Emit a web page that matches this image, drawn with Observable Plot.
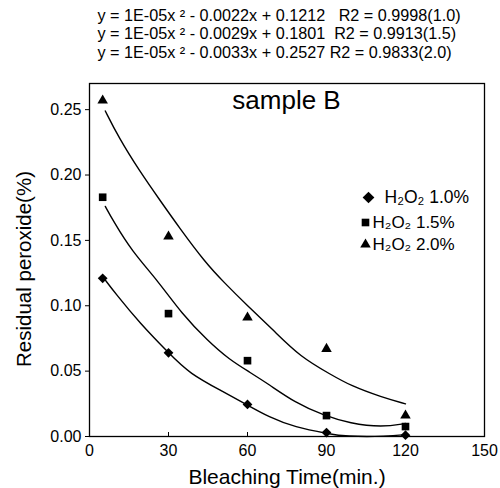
<!DOCTYPE html>
<html>
<head>
<meta charset="utf-8">
<script src="https://cdn.jsdelivr.net/npm/d3@7"></script>
<script src="https://cdn.jsdelivr.net/npm/@observablehq/plot@0.6"></script>
<style>
  html, body { margin: 0; padding: 0; background: #fff; }
  #chart svg { display: block; }
</style>
</head>
<body>
<div id="chart"></div>
<script>
// ---- data ----
const times = [5, 30, 60, 90, 120];
const peroxide10 = [0.121, 0.064, 0.0245, 0.003, 0.001];
const peroxide15 = [0.183, 0.094, 0.058, 0.016, 0.0076];
const peroxide20 = [0.257, 0.153, 0.091, 0.067, 0.016];

// fitted trend curves
const fit10X = [5.5, 10, 19, 30, 38, 51, 60, 68, 78, 91, 97, 113, 120];
const fit10Y = [0.121, 0.109, 0.087, 0.064, 0.048, 0.034, 0.024, 0.015, 0.007, 0.002, 0.0, 0.0, 0.0015];
const fit15X = [6, 9, 16, 26, 35, 45, 53, 61, 68, 78, 89, 99, 111, 120];
const fit15Y = [0.176, 0.165, 0.142, 0.119, 0.094, 0.073, 0.059, 0.049, 0.040, 0.026, 0.016, 0.010, 0.007, 0.010];
const fit20X = [6, 11, 19, 27, 34, 44, 51, 60, 70, 80, 92, 99, 111, 120];
const fit20Y = [0.249, 0.229, 0.203, 0.180, 0.160, 0.133, 0.118, 0.100, 0.081, 0.061, 0.047, 0.039, 0.030, 0.025];

const xTicks = [0, 30, 60, 90, 120, 150];
const yTicks = [0, 0.05, 0.10, 0.15, 0.20, 0.25];
const equations = [
  "y = 1E-05x \u00B2 - 0.0022x + 0.1212   R2 = 0.9998(1.0)",
  "y = 1E-05x \u00B2 - 0.0029x + 0.1801  R2 = 0.9913(1.5)",
  "y = 1E-05x \u00B2 - 0.0033x + 0.2527 R2 = 0.9833(2.0)"
];
const legendLabels = ["H\u2082O\u2082 1.0%", "H\u2082O\u2082 1.5%", "H\u2082O\u2082 2.0%"];
const legendSymbols = ["diamond2", "square", "triangle"];
const panelLabel = "sample B";
const xLabel = "Bleaching Time(min.)";
const yLabel = "Residual peroxide(%)";

// ---- build ----
const toRows = (xs, ys) => xs.map((x, i) => ({x, y: ys[i]}));
const pts10 = toRows(times, peroxide10);
const pts15 = toRows(times, peroxide15);
const pts20 = toRows(times, peroxide20);
const fit10 = toRows(fit10X, fit10Y);
const fit15 = toRows(fit15X, fit15Y);
const fit20 = toRows(fit20X, fit20Y);

const FONT = "'Liberation Sans', Arial, Helvetica, sans-serif";
const symR = {diamond2: 4.4, square: 4.3, triangle: 3.9};

const legendMarks = [];
const legDy = [114, 139, 161];
const legSymDx = [279, 276, 276];
const legTextDx = [295, 283, 283];
legendLabels.forEach((lab, i) => {
  legendMarks.push(Plot.dot([lab], {frameAnchor: "top-left", dx: legSymDx[i], dy: legDy[i],
    symbol: legendSymbols[i], r: symR[legendSymbols[i]] * (i === 0 ? 1.2 : 1), fill: "black", stroke: "none"}));
  legendMarks.push(Plot.text([lab], {frameAnchor: "top-left", dx: legTextDx[i], dy: legDy[i],
    text: d => d, textAnchor: "start", lineAnchor: "middle", fontSize: i === 0 ? 17.5 : 17, fill: "black"}));
});

const eqDy = [-68, -50, -31];
const eqMarks = equations.map((e, i) => Plot.text([e], {frameAnchor: "top-left", dx: 8, dy: eqDy[i],
  text: d => d, textAnchor: "start", lineAnchor: "middle", fontSize: 16.2, fill: "black"}));

const plot = Plot.plot({
  width: 500,
  height: 488,
  marginLeft: 89,
  marginRight: 16,
  marginTop: 83,
  marginBottom: 52,
  style: {fontFamily: FONT, background: "white", color: "black"},
  x: {domain: [0, 150]},
  y: {domain: [0, 0.27]},
  marks: [
    Plot.frame({stroke: "black", strokeWidth: 1.3}),
    Plot.axisY({ticks: yTicks, tickFormat: d3.format(".2f"), tickSize: 4, tickPadding: 4, fontSize: 16, label: null}),
    Plot.axisX({ticks: xTicks, tickFormat: d => d, tickSize: -4, tickPadding: 12, fontSize: 16, label: null}),
    Plot.text([xLabel], {frameAnchor: "bottom", dy: 47, text: d => d, textAnchor: "middle", fontSize: 21, fill: "black"}),
    Plot.text([yLabel], {frameAnchor: "left", dx: -65, dy: 9, rotate: -90, textAnchor: "middle", lineAnchor: "middle", text: d => d, fontSize: 20.5, fill: "black"}),
    Plot.line(fit10, {x: "x", y: "y", curve: "basis", stroke: "black", strokeWidth: 1.4}),
    Plot.line(fit15, {x: "x", y: "y", curve: "basis", stroke: "black", strokeWidth: 1.4}),
    Plot.line(fit20, {x: "x", y: "y", curve: "basis", stroke: "black", strokeWidth: 1.4}),
    Plot.dot(pts10, {x: "x", y: "y", symbol: "diamond2", r: symR.diamond2, fill: "black", stroke: "none"}),
    Plot.dot(pts15, {x: "x", y: "y", symbol: "square", r: symR.square, fill: "black", stroke: "none"}),
    Plot.dot(pts20, {x: "x", y: "y", symbol: "triangle", r: symR.triangle, fill: "black", stroke: "none"}),
    Plot.text([panelLabel], {frameAnchor: "top-left", dx: 197, dy: 17, text: d => d, textAnchor: "middle", lineAnchor: "middle", fontSize: 26, fill: "black"}),
    ...legendMarks,
    ...eqMarks
  ]
});
document.getElementById("chart").appendChild(plot);
</script>
</body>
</html>
